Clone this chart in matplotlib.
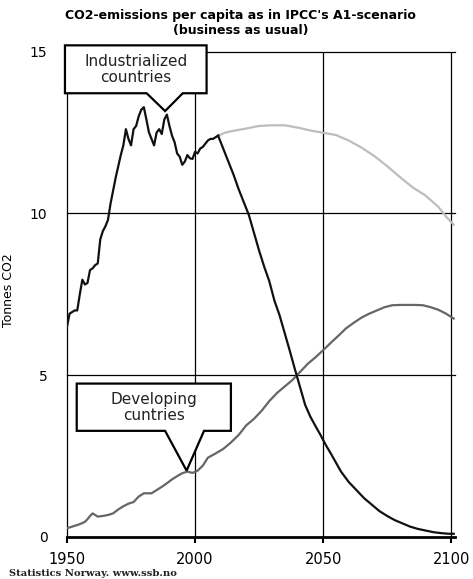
import matplotlib
matplotlib.use("Agg")
import matplotlib.pyplot as plt
from matplotlib.patches import Polygon

# --- data ---
ind_hist_years = [1950, 1951, 1952, 1953, 1954, 1955, 1956, 1957, 1958, 1959,
                  1960, 1961, 1962, 1963, 1964, 1965, 1966, 1967, 1968, 1969,
                  1970, 1971, 1972, 1973, 1974, 1975, 1976, 1977, 1978, 1979,
                  1980, 1981, 1982, 1983, 1984, 1985, 1986, 1987, 1988, 1989,
                  1990, 1991, 1992, 1993, 1994, 1995, 1996, 1997, 1998, 1999,
                  2000, 2001, 2002, 2003, 2004, 2005, 2006, 2007, 2008, 2009]
ind_hist = [6.5, 6.9, 6.95, 7.0, 7.0, 7.5, 7.95, 7.8, 7.85, 8.25,
            8.3, 8.4, 8.45, 9.2, 9.45, 9.6, 9.8, 10.3, 10.7, 11.1,
            11.45, 11.8, 12.1, 12.6, 12.3, 12.1, 12.6, 12.7, 13.0, 13.2,
            13.28, 12.9, 12.5, 12.3, 12.1, 12.5, 12.6, 12.45, 12.9, 13.05,
            12.7, 12.4, 12.2, 11.85, 11.75, 11.5, 11.6, 11.8, 11.7, 11.68,
            11.9, 11.85, 12.0, 12.05, 12.15, 12.25, 12.3, 12.3, 12.35, 12.4]

ind_down_years = [2009, 2011, 2013, 2015, 2017, 2019, 2021, 2023, 2025, 2027,
                  2029, 2031, 2033, 2035, 2037, 2039, 2041, 2043, 2045, 2047,
                  2049, 2051, 2053, 2055, 2057, 2060, 2063, 2066, 2069, 2072,
                  2075, 2078, 2081, 2084, 2087, 2090, 2093, 2096, 2099, 2101]
ind_down = [12.4, 12.0, 11.6, 11.2, 10.75, 10.35, 9.95, 9.4, 8.85, 8.35,
            7.9, 7.3, 6.85, 6.3, 5.75, 5.18, 4.63, 4.08, 3.72, 3.43,
            3.15, 2.85, 2.58, 2.3, 2.02, 1.7, 1.45, 1.2, 1.0, 0.8,
            0.65, 0.52, 0.42, 0.32, 0.25, 0.2, 0.15, 0.12, 0.1, 0.1]

ind_bau_years = [2009, 2012, 2015, 2020, 2025, 2030, 2035, 2040, 2045, 2050,
                 2055, 2060, 2065, 2070, 2075, 2080, 2085, 2090, 2095, 2098, 2101]
ind_bau = [12.4, 12.5, 12.55, 12.62, 12.7, 12.72, 12.72, 12.65, 12.56, 12.49,
           12.42, 12.25, 12.03, 11.77, 11.46, 11.12, 10.8, 10.55, 10.2, 9.9, 9.65]

dev_years = [1950, 1952, 1954, 1956, 1957, 1958, 1959, 1960, 1961, 1962,
             1964, 1966, 1968, 1970, 1972, 1974, 1976, 1978, 1980, 1983,
             1985, 1987, 1989, 1991, 1993, 1995, 1997, 1999, 2001, 2003,
             2005, 2008, 2011, 2014, 2017, 2020, 2023, 2026, 2029, 2032,
             2035, 2038, 2041, 2044, 2047, 2050, 2053, 2056, 2059, 2062,
             2065, 2068, 2071, 2074, 2077, 2080, 2083, 2086, 2089, 2092,
             2095, 2098, 2101]
dev = [0.27, 0.32, 0.37, 0.43, 0.47, 0.55, 0.65, 0.73, 0.68, 0.63,
       0.65, 0.68, 0.73, 0.85, 0.95, 1.03, 1.08, 1.25, 1.35, 1.35,
       1.45, 1.55, 1.66, 1.78, 1.88, 1.97, 2.02, 1.98, 2.05, 2.2,
       2.45, 2.58, 2.72, 2.92, 3.15, 3.45, 3.65, 3.9, 4.2, 4.45,
       4.65, 4.85, 5.1, 5.35, 5.55, 5.77, 6.0, 6.22, 6.45, 6.62,
       6.78, 6.9, 7.0, 7.1, 7.16, 7.17, 7.17, 7.17, 7.16, 7.1,
       7.02, 6.9, 6.75]

xticks = [1950, 2000, 2050, 2100]
yticks = [0, 5, 10, 15]

fig = plt.figure(figsize=(4.73, 5.79), dpi=100)
ax = fig.add_axes([67 / 473, 1 - 537 / 579, 388 / 473, 485.5 / 579])
ax.set_xlim(1950, 2101.5)
ax.set_ylim(0, 15)

# grid
for yv in yticks[1:]:
    ax.axhline(yv, color="black", lw=0.9, zorder=1, clip_on=False)
for xv in xticks[1:]:
    ax.axvline(xv, color="black", lw=0.9, zorder=1)

for s in ["top", "right"]:
    ax.spines[s].set_visible(False)
ax.spines["left"].set_linewidth(0.9)
ax.spines["bottom"].set_linewidth(2.0)

ax.plot(ind_bau_years, ind_bau, color="#bdbdbd", lw=1.6, zorder=3)
ax.plot(dev_years, dev, color="#666666", lw=1.6, zorder=3)
ax.plot(ind_hist_years, ind_hist, color="#111111", lw=1.6, zorder=4)
ax.plot(ind_down_years, ind_down, color="#111111", lw=1.6, zorder=4)

ax.set_xticks(xticks)
ax.set_yticks(yticks)
ax.tick_params(axis="x", length=4, width=1.5, direction="out", pad=7, labelsize=10.5)
ax.tick_params(axis="y", length=0, pad=14, labelsize=10)
ax.set_ylabel("Tonnes CO2", fontsize=9)
ax.yaxis.set_label_coords(-0.134, 0.509)


def callout(x0, x1, y0, y1, bx0, bx1, tip, text):
    pts = [(x0, y1), (x1, y1), (x1, y0), (bx1, y0), tip, (bx0, y0), (x0, y0)]
    ax.add_patch(Polygon(pts, closed=True, facecolor="white", edgecolor="black",
                         lw=1.6, zorder=6, clip_on=False))
    ax.text((x0 + x1) / 2, (y0 + y1) / 2, text, ha="center", va="center",
            fontsize=11, linespacing=1.1, color="#222222", zorder=7)


callout(1949.2, 2004.5, 13.71, 15.19, 1981.1, 1995.2, (1988.3, 13.16),
        "Industrialized\ncountries")
callout(1953.8, 2014.0, 3.28, 4.74, 1988.3, 2003.5, (1996.7, 2.05),
        "Developing\ncuntries")

fig.text(0.508, 0.985, "CO2-emissions per capita as in IPCC's A1-scenario\n(business as usual)",
         ha="center", va="top", fontsize=9, fontweight="bold", linespacing=1.2)
fig.text(9 / 473, 1 - 573 / 579, "Statistics Norway. www.ssb.no", ha="left", va="center",
         fontsize=7.2, family="DejaVu Serif", fontweight="bold", color="#222222")

fig.savefig("out.png", dpi=100)
